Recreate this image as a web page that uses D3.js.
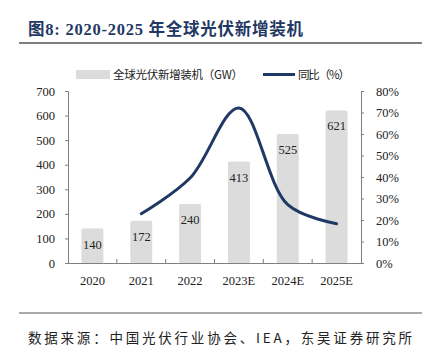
<!DOCTYPE html>
<html><head><meta charset="utf-8">
<script src="https://cdn.jsdelivr.net/npm/d3@7"></script>
<style>body{margin:0;background:#fff}svg{display:block}</style>
</head><body>
<script>
const categories = ["2020","2021","2022","2023E","2024E","2025E"];
const installs = [140,172,240,413,525,621];
const growth = [null,22.9,39.5,72.1,27.1,18.3];
const leftTicks = [0,100,200,300,400,500,600,700];
const rightTicks = [0,10,20,30,40,50,60,70,80];

const W=427,H=353;
const svg=d3.select("body").append("svg").attr("width",W).attr("height",H);
const serif="'Liberation Serif','Times New Roman',serif";
const cjk="'Noto Sans CJK SC',sans-serif";
const navy="#1f3864";

svg.append("text").attr("x",28).attr("y",35).attr("fill",navy)
  .attr("font-weight","bold").attr("font-size",16.5).attr("font-family",serif+","+cjk)
  .attr("textLength",275).attr("lengthAdjust","spacing")
  .text("图8:  2020-2025 年全球光伏新增装机");
svg.append("line").attr("x1",19).attr("x2",422).attr("y1",43).attr("y2",43).attr("stroke","#7f7f7f").attr("stroke-width",2);

const x=d3.scaleBand().domain(categories).range([68,361]).paddingInner(0.55).paddingOuter(0.275);
const xc=d3.scalePoint().domain(categories).range([68,361]).padding(0.5);
const y=d3.scaleLinear().domain([0,700]).range([263,91]);
const y2=d3.scaleLinear().domain([0,80]).range([263,91]);

// bars
svg.selectAll("rect.bar").data(installs).enter().append("rect")
  .attr("x",(d,i)=>x(categories[i])).attr("width",x.bandwidth())
  .attr("y",d=>y(d)).attr("height",d=>y(0)-y(d)).attr("rx",1.5).attr("fill","#dcdcdc");
svg.selectAll("text.bl").data(installs).enter().append("text")
  .attr("x",(d,i)=>xc(categories[i])).attr("y",d=>y(d)+20)
  .attr("text-anchor","middle").attr("font-size",12.5).attr("font-family",serif).attr("fill","#222")
  .text(d=>d);

// axes
const axisCol="#808080";
const gl=svg.append("g").attr("transform","translate(68,0)")
  .call(d3.axisLeft(y).tickValues(leftTicks).tickSize(3).tickPadding(10));
const gr=svg.append("g").attr("transform","translate(361,0)")
  .call(d3.axisRight(y2).tickValues(rightTicks).tickSize(3).tickPadding(12).tickFormat(d=>d+"%"));
[gl,gr].forEach(g=>{
  g.select(".domain").attr("stroke",axisCol);
  g.selectAll(".tick line").attr("stroke",axisCol);
  g.selectAll("text").attr("font-family",serif).attr("font-size",12.5).attr("fill","#222");
});
gl.selectAll("text").attr("text-anchor","end");
gr.selectAll("text").attr("text-anchor","start");
// x axis
const step=x.step();
svg.append("line").attr("x1",68).attr("x2",361).attr("y1",263.5).attr("y2",263.5).attr("stroke",axisCol);
const bounds=d3.range(1,categories.length).map(i=>68+i*step);
svg.selectAll("line.xt").data(bounds).enter().append("line")
  .attr("x1",d=>d).attr("x2",d=>d).attr("y1",263).attr("y2",259).attr("stroke",axisCol);
svg.selectAll("text.xl").data(categories).enter().append("text")
  .attr("x",d=>xc(d)).attr("y",285).attr("text-anchor","middle")
  .attr("font-family",serif).attr("font-size",12.5).attr("fill","#222").text(d=>d);

// line
const pts=categories.map((c,i)=>[xc(c),growth[i]]).filter(p=>p[1]!=null);
const line=d3.line().x(p=>p[0]).y(p=>y2(p[1])).curve(d3.curveCatmullRom.alpha(0.5));
svg.append("path").attr("d",line(pts)).attr("fill","none").attr("stroke",navy).attr("stroke-width",3).attr("stroke-linecap","round");

// legend
svg.append("rect").attr("x",76).attr("y",70).attr("width",34).attr("height",9).attr("fill","#dcdcdc");
svg.append("text").attr("x",113).attr("y",79).attr("font-family",cjk+","+serif).attr("font-size",11.5).attr("fill","#222")
  .attr("textLength",130).attr("lengthAdjust","spacing")
  .text("全球光伏新增装机（GW）");
svg.append("line").attr("x1",263).attr("x2",295).attr("y1",74.5).attr("y2",74.5).attr("stroke",navy).attr("stroke-width",3);
svg.append("text").attr("x",298).attr("y",79).attr("font-family",cjk+","+serif).attr("font-size",11.5).attr("fill","#222")
  .attr("textLength",52).attr("lengthAdjust","spacing")
  .text("同比（%）");

// source
svg.append("line").attr("x1",19).attr("x2",422).attr("y1",313).attr("y2",313).attr("stroke","#555").attr("stroke-width",1.2);
svg.append("text").attr("x",28).attr("y",343).attr("font-family",cjk).attr("font-size",13.5).attr("fill","#222")
  .attr("textLength",384).attr("lengthAdjust","spacing")
  .text("数据来源：中国光伏行业协会、IEA，东吴证券研究所");
</script>
</body></html>
